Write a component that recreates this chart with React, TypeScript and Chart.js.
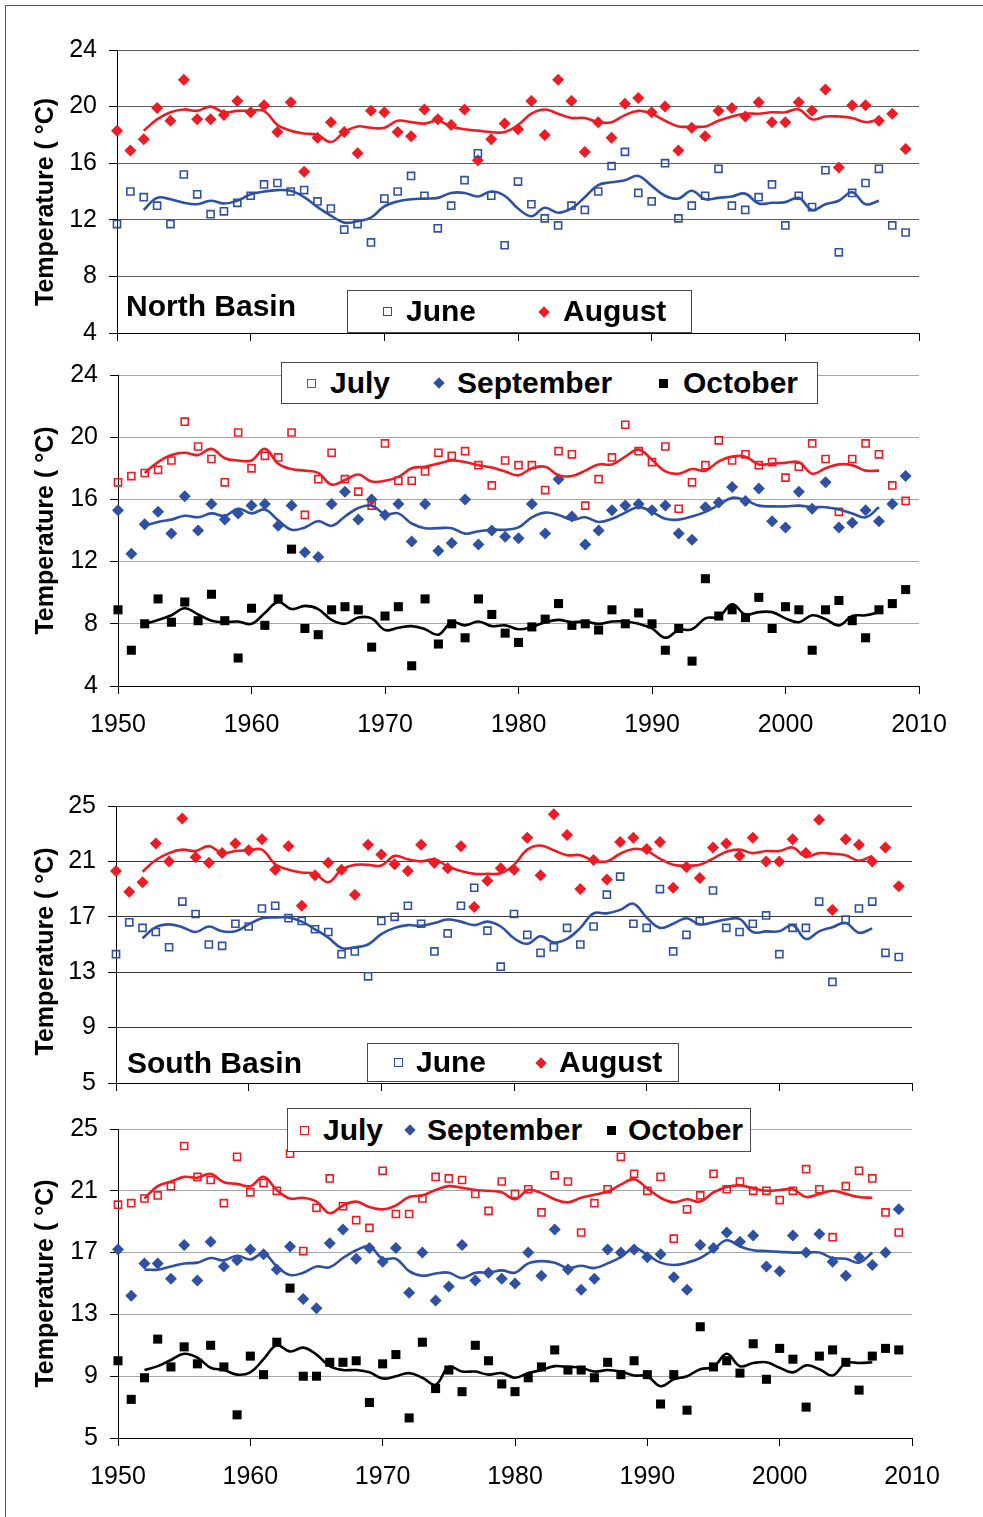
import React, { useEffect, useRef } from "react";
import { Chart, registerables } from "chart.js";

Chart.register(...registerables);

// ---------- categories ----------
const years = [
  1950, 1951, 1952, 1953, 1954, 1955, 1956, 1957, 1958, 1959,
  1960, 1961, 1962, 1963, 1964, 1965, 1966, 1967, 1968, 1969,
  1970, 1971, 1972, 1973, 1974, 1975, 1976, 1977, 1978, 1979,
  1980, 1981, 1982, 1983, 1984, 1985, 1986, 1987, 1988, 1989,
  1990, 1991, 1992, 1993, 1994, 1995, 1996, 1997, 1998, 1999,
  2000, 2001, 2002, 2003, 2004, 2005, 2006, 2007, 2008, 2009,
];
const lineYears = [
  1952, 1953, 1954, 1955, 1956, 1957, 1958, 1959,
  1960, 1961, 1962, 1963, 1964, 1965, 1966, 1967, 1968, 1969,
  1970, 1971, 1972, 1973, 1974, 1975, 1976, 1977, 1978, 1979,
  1980, 1981, 1982, 1983, 1984, 1985, 1986, 1987, 1988, 1989,
  1990, 1991, 1992, 1993, 1994, 1995, 1996, 1997, 1998, 1999,
  2000, 2001, 2002, 2003, 2004, 2005, 2006, 2007,
];
const xTicks = [1950, 1960, 1970, 1980, 1990, 2000, 2010];
const yTicksNorth = [4, 8, 12, 16, 20, 24];
const yTicksSouth = [5, 9, 13, 17, 21, 25];

// ---------- North Basin: June / August ----------
const northJune = [
  11.7, 14.0, 13.6, 13.0, 11.7, 15.2, 13.8, 12.4, 12.6, 13.2,
  13.7, 14.5, 14.6, 14.0, 14.1, 13.3, 12.8, 11.3, 11.7, 10.4,
  13.5, 14.0, 15.1, 13.7, 11.4, 13.0, 14.8, 16.7, 13.7, 10.2,
  14.7, 13.1, 12.1, 11.6, 13.0, 12.7, 14.0, 15.8, 16.8, 13.9,
  13.3, 16.0, 12.1, 13.0, 13.7, 15.6, 13.0, 12.7, 13.6, 14.5,
  11.6, 13.7, 12.9, 15.5, 9.7, 13.9, 14.6, 15.6, 11.6, 11.1,
];
const northAugust = [
  18.3, 16.9, 17.7, 19.9, 19.0, 21.9, 19.1, 19.1, 19.4, 20.4,
  19.6, 20.1, 18.2, 20.3, 15.4, 17.8, 18.9, 18.2, 16.7, 19.7,
  19.6, 18.2, 17.9, 19.8, 19.1, 18.7, 19.8, 16.2, 17.7, 18.8,
  18.4, 20.4, 18.0, 21.9, 20.4, 16.8, 18.9, 17.8, 20.2, 20.6,
  19.6, 20.0, 16.9, 18.5, 17.9, 19.7, 19.9, 19.3, 20.3, 18.9,
  18.9, 20.3, 19.7, 21.2, 15.7, 20.1, 20.1, 19.0, 19.5, 17.0,
];
const northJuneSmooth = [
  12.7, 13.55, 13.45, 13.2, 13.1, 13.35, 13.15, 13.35,
  13.8, 14.0, 14.1, 14.05, 13.6, 12.9, 12.3, 11.8, 11.9, 12.15,
  12.95, 13.3, 13.45, 13.5, 13.55, 13.9, 13.9, 13.65, 14.0, 13.7,
  12.8, 12.25, 12.85, 12.5, 12.8, 13.6, 14.45, 14.65, 14.8, 15.1,
  14.4, 13.7, 13.5, 14.05, 13.45, 13.55, 13.65, 13.85, 13.15, 13.2,
  13.25, 13.55, 12.7, 13.1, 13.35, 13.95, 13.1, 13.35,
];
const northAugustSmooth = [
  18.3, 19.1, 19.6, 19.8, 19.7, 20.0, 19.6, 19.7,
  19.7, 19.7, 18.7, 18.3, 18.1, 18.0, 17.5, 18.2, 18.6, 18.5,
  18.5, 19.0, 18.9, 18.8, 19.0, 18.6, 18.4, 18.3, 18.2, 18.2,
  18.7, 19.5, 19.8, 19.5, 19.2, 19.2, 18.9, 18.9, 19.4, 19.7,
  19.5, 19.0, 18.6, 18.6, 18.6, 19.0, 19.3, 19.5, 19.5, 19.6,
  19.6, 19.8, 19.1, 19.3, 19.3, 19.2, 18.9, 19.1,
];

// ---------- North Basin: July / September / October ----------
const northJuly = [
  17.1, 17.5, 17.7, 17.9, 18.5, 21.0, 19.4, 18.6, 17.1, 20.3,
  18.0, 18.8, 18.7, 20.3, 15.0, 17.3, 19.0, 17.3, 16.5, 15.6,
  19.6, 17.2, 17.2, 17.8, 19.0, 18.8, 19.1, 18.2, 16.9, 18.5,
  18.2, 18.2, 16.6, 19.1, 18.9, 15.6, 17.3, 18.7, 20.8, 19.1,
  18.4, 19.4, 15.4, 17.1, 18.2, 19.8, 18.5, 18.9, 18.2, 18.4,
  17.4, 18.1, 19.6, 18.6, 15.2, 18.6, 19.6, 18.9, 16.9, 15.9,
];
const northSeptember = [
  15.3, 12.5, 14.4, 15.2, 13.8, 16.2, 14.0, 15.7, 14.7, 15.1,
  15.6, 15.7, 14.3, 15.6, 12.6, 12.3, 15.7, 16.5, 14.7, 16.0,
  15.0, 15.7, 13.3, 15.7, 12.7, 13.2, 16.0, 13.1, 14.0, 13.6,
  13.5, 15.7, 13.8, 17.3, 14.9, 13.1, 14.0, 15.3, 15.6, 15.7,
  15.3, 15.6, 13.8, 13.4, 15.5, 15.8, 16.8, 15.9, 16.7, 14.6,
  14.2, 16.5, 15.4, 17.1, 14.2, 14.5, 15.3, 14.6, 15.7, 17.5,
];
const northOctober = [
  8.9, 6.3, 8.0, 9.6, 8.1, 9.4, 8.2, 9.9, 8.2, 5.8,
  9.0, 7.9, 9.6, 12.8, 7.7, 7.3, 8.9, 9.1, 8.9, 6.5,
  8.5, 9.1, 5.3, 9.6, 6.7, 8.0, 7.1, 9.6, 8.6, 7.4,
  6.8, 7.8, 8.3, 9.3, 7.9, 8.0, 7.6, 8.9, 8.0, 8.7,
  8.0, 6.3, 7.7, 5.6, 10.9, 8.5, 8.9, 8.4, 9.7, 7.7,
  9.1, 8.9, 6.3, 8.9, 9.5, 8.2, 7.1, 8.9, 9.3, 10.2,
];
const northJulySmooth = [
  17.7, 18.4, 18.85, 19.0, 18.85, 19.25, 18.65, 18.5,
  18.5, 19.25, 18.3, 17.95, 17.85, 17.7, 16.95, 17.25, 17.6, 17.15,
  17.2, 17.45, 18.0, 18.1, 18.3, 18.5, 18.4, 18.2, 18.05, 17.8,
  17.55, 18.0, 18.1, 17.55, 17.5, 17.85, 18.25, 18.25, 18.75, 19.2,
  18.55, 17.8, 17.65, 17.95, 17.85, 18.45, 18.75, 18.75, 18.25, 18.3,
  18.35, 18.4, 17.65, 18.0, 18.25, 18.2, 17.85, 17.85,
];
const northSeptemberSmooth = [
  14.3, 14.55, 14.7, 14.95, 14.85, 15.1, 14.95, 15.4,
  15.1, 15.35, 14.65, 14.05, 14.2, 14.6, 14.3, 14.9, 15.45, 15.6,
  15.05, 15.1, 14.45, 14.15, 14.15, 14.15, 13.8, 13.95, 14.05, 14.05,
  14.2, 14.85, 15.15, 15.0, 14.7, 14.85, 14.55, 14.75, 15.15, 15.5,
  15.2, 14.75, 14.7, 14.9, 15.2, 15.65, 16.1, 15.95, 15.6, 15.55,
  15.55, 15.6, 15.5, 15.5, 15.35, 15.1, 14.85, 15.5,
];
const northOctoberSmooth = [
  8.0, 8.25, 8.55, 9.0, 8.6, 8.2, 8.1, 8.15,
  8.0, 8.7, 9.4, 8.95, 9.15, 8.95, 8.25, 8.0, 8.4, 8.35,
  7.6, 7.75, 7.85, 7.65, 7.3, 8.1, 7.9, 8.15, 7.85, 7.9,
  7.65, 7.8, 8.1, 8.25, 8.1, 8.15, 8.0, 8.15, 8.15, 8.0,
  7.7, 7.1, 7.6, 7.65, 8.35, 8.45, 9.25, 8.6, 8.75, 8.75,
  8.35, 8.1, 8.55, 8.3, 7.9, 8.5, 8.55, 8.75,
];

// ---------- South Basin: June / August ----------
const southJune = [
  14.3, 16.6, 16.2, 15.9, 14.8, 18.1, 17.2, 15.0, 14.9, 16.5,
  16.3, 17.6, 17.8, 16.9, 16.7, 16.1, 15.9, 14.3, 14.5, 12.7,
  16.7, 17.0, 17.8, 16.5, 14.5, 15.8, 17.8, 19.1, 16.0, 13.4,
  17.2, 15.7, 14.4, 14.8, 16.2, 15.0, 16.3, 18.6, 19.9, 16.5,
  16.2, 19.0, 14.5, 15.7, 16.7, 18.9, 16.2, 15.9, 16.5, 17.1,
  14.3, 16.2, 16.2, 18.1, 12.3, 16.8, 17.6, 18.1, 14.4, 14.1,
];
const southAugust = [
  20.3, 18.8, 19.5, 22.3, 21.0, 24.1, 21.3, 20.9, 21.6, 22.3,
  21.8, 22.6, 20.4, 22.1, 17.8, 20.0, 20.9, 20.4, 18.6, 22.2,
  21.5, 20.8, 20.3, 22.2, 20.9, 20.5, 22.1, 17.7, 19.6, 20.5,
  20.4, 22.7, 20.0, 24.4, 22.9, 19.0, 21.1, 19.7, 22.4, 22.7,
  21.9, 22.4, 19.1, 20.6, 19.8, 22.0, 22.3, 21.4, 22.7, 21.0,
  21.0, 22.6, 21.6, 24.0, 17.5, 22.6, 22.2, 21.0, 22.0, 19.2,
];
const southJuneSmooth = [
  15.45, 16.25, 16.45, 16.25, 15.9, 16.3, 15.95, 15.95,
  16.45, 16.9, 16.95, 16.95, 16.65, 16.1, 15.5, 14.75, 14.8, 15.0,
  15.75, 16.2, 16.4, 16.35, 16.55, 16.8, 16.65, 16.4, 16.65, 16.3,
  15.45, 15.05, 15.6, 15.15, 15.4, 16.2, 17.25, 17.25, 17.5, 17.95,
  16.95, 16.2, 16.5, 16.9, 16.45, 16.6, 16.8, 16.85, 15.9, 15.95,
  15.95, 16.4, 15.4, 15.95, 16.25, 16.55, 15.85, 16.15,
];
const southAugustSmooth = [
  20.25, 21.1, 21.6, 21.85, 21.75, 22.1, 21.6, 21.75,
  21.8, 21.85, 20.8, 20.4, 20.2, 20.1, 19.5, 20.4, 20.75, 20.75,
  20.7, 21.4, 21.15, 21.0, 21.15, 20.65, 20.3, 20.1, 20.1, 20.15,
  20.75, 21.85, 22.15, 21.8, 21.45, 21.45, 21.05, 21.0, 21.55, 21.9,
  21.75, 21.2, 20.75, 20.7, 20.75, 21.2, 21.7, 21.85, 21.6, 21.75,
  21.75, 22.0, 21.35, 21.6, 21.55, 21.45, 21.05, 21.4,
];

// ---------- South Basin: July / September / October ----------
const southJuly = [
  20.1, 20.2, 20.5, 20.7, 21.3, 23.9, 21.9, 21.7, 20.2, 23.2,
  20.9, 21.5, 21.0, 23.4, 17.1, 19.9, 21.8, 20.0, 19.1, 18.6,
  22.3, 19.5, 19.5, 20.5, 21.9, 21.8, 21.7, 20.8, 19.7, 21.6,
  20.8, 21.1, 19.6, 22.0, 21.6, 18.3, 20.2, 21.1, 23.2, 22.1,
  21.0, 21.9, 17.9, 19.8, 20.7, 22.1, 21.1, 21.6, 21.0, 21.0,
  20.4, 21.0, 22.4, 21.1, 18.0, 21.3, 22.3, 21.8, 19.6, 18.3,
];
const southSeptember = [
  17.2, 14.2, 16.3, 16.3, 15.3, 17.5, 15.2, 17.7, 16.1, 16.5,
  17.2, 16.9, 15.9, 17.4, 14.0, 13.4, 17.6, 18.5, 16.6, 17.3,
  16.4, 17.3, 14.4, 17.0, 13.9, 14.8, 17.5, 15.2, 15.7, 15.3,
  15.0, 17.0, 15.5, 18.5, 15.9, 14.6, 15.3, 17.2, 17.0, 17.2,
  16.7, 16.9, 15.4, 14.6, 17.5, 17.3, 18.3, 17.7, 18.1, 16.1,
  15.8, 18.1, 17.0, 18.2, 16.4, 15.5, 16.7, 16.2, 17.0, 19.8,
];
const southOctober = [
  10.0, 7.5, 8.9, 11.4, 9.6, 10.9, 9.8, 11.0, 9.6, 6.5,
  10.3, 9.1, 11.2, 14.7, 9.0, 9.0, 9.9, 9.9, 10.0, 7.3,
  9.8, 10.4, 6.3, 11.2, 8.2, 9.4, 8.0, 11.0, 10.0, 8.5,
  8.0, 8.9, 9.6, 10.7, 9.4, 9.4, 8.9, 9.9, 9.1, 10.0,
  9.1, 7.2, 9.1, 6.8, 12.2, 9.6, 10.0, 9.2, 11.1, 8.8,
  10.8, 10.1, 7.0, 10.3, 10.7, 9.9, 8.1, 10.3, 10.8, 10.7,
];
const southJulySmooth = [
  20.5, 21.3, 21.6, 21.9, 21.85, 22.1, 21.55, 21.45,
  21.3, 21.9, 21.05, 20.5, 20.55, 20.3, 19.55, 20.05, 20.3, 19.95,
  19.8, 20.05, 20.6, 20.7, 21.05, 21.3, 21.2, 21.05, 21.0, 20.9,
  20.45, 21.05, 20.85, 20.45, 20.25, 20.55, 20.75, 20.95, 21.4, 21.75,
  21.15, 20.55, 20.25, 20.45, 20.3, 20.9, 21.25, 21.35, 21.15, 21.0,
  21.05, 21.1, 20.6, 20.8, 21.0, 20.8, 20.6, 20.55,
];
const southSeptemberSmooth = [
  15.9, 15.9, 16.1, 16.3, 16.35, 16.65, 16.5, 16.8,
  16.55, 16.95, 16.1, 15.55, 15.7, 16.1, 16.05, 16.65, 17.15, 17.4,
  16.6, 16.6, 15.8, 15.5, 15.65, 15.7, 15.35, 15.7, 15.7, 15.85,
  15.7, 16.3, 16.45, 16.35, 16.0, 16.15, 16.0, 16.3, 16.7, 17.3,
  16.85, 16.35, 16.2, 16.35, 16.65, 17.2, 17.8, 17.4, 17.15, 17.1,
  17.05, 17.0, 17.0, 17.0, 16.65, 16.6, 16.35, 17.0,
];
const southOctoberSmooth = [
  9.4, 9.65, 10.05, 10.45, 10.2, 9.55, 9.4, 9.1,
  9.25, 10.1, 11.0, 10.6, 10.85, 10.4, 9.65, 9.4, 9.4, 9.25,
  8.85, 9.0, 9.2, 8.9, 8.45, 9.6, 9.3, 9.3, 9.1, 9.2,
  8.9, 9.2, 9.4, 9.65, 9.6, 9.55, 9.3, 9.4, 9.3, 9.05,
  9.0, 8.35, 8.8, 9.0, 9.45, 9.6, 10.45, 9.65, 9.85, 9.9,
  9.55, 9.25, 9.7, 9.45, 9.05, 9.85, 9.85, 9.9,
];

// ---------- styling ----------
const FONT = "'Liberation Sans', Arial, Helvetica, sans-serif";
const RED = "#ED1C24";
const BLUE = "#2F51A3";
const BLACK = "#000000";
const PAGE_W = 983;
const Y_TITLE = "Temperature ( °C)";

const xy = (xs: number[], ys: number[]) => xs.map((x, i) => ({ x, y: ys[i] }));

const openSquare = (label: string, ys: number[], color: string) => ({
  label,
  data: xy(years, ys),
  showLine: false,
  pointStyle: "rect",
  pointRadius: 5.0,
  pointBorderWidth: 1.6,
  pointBorderColor: color,
  pointBackgroundColor: "rgba(255,255,255,0)",
  clip: false,
  order: 2,
});
const diamond = (label: string, ys: number[], color: string) => ({
  label,
  data: xy(years, ys),
  showLine: false,
  pointStyle: "rectRot",
  pointRadius: 6.0,
  pointBorderWidth: 0,
  pointBorderColor: color,
  pointBackgroundColor: color,
  clip: false,
  order: 2,
});
const filledSquare = (label: string, ys: number[], color: string) => ({
  label,
  data: xy(years, ys),
  showLine: false,
  pointStyle: "rect",
  pointRadius: 6.4,
  pointBorderWidth: 0,
  pointBorderColor: color,
  pointBackgroundColor: color,
  clip: false,
  order: 2,
});
const smooth = (label: string, ys: number[], color: string) => ({
  label,
  data: xy(lineYears, ys),
  showLine: true,
  borderColor: color,
  borderWidth: 2.6,
  pointRadius: 0,
  tension: 0.4,
  fill: false,
  clip: false,
  order: 1,
});

type PanelSpec = {
  top: number;
  height: number;
  left: number;
  right: number;
  chartTop: number;
  chartBottom: number;
  yTicks: number[];
  showXLabels: boolean;
  gridColor: string;
  titleText: string;
  datasets: any[];
};

const panels: PanelSpec[] = [
  {
    top: 0, height: 360, left: 117, right: 919, chartTop: 50, chartBottom: 338,
    yTicks: yTicksNorth, showXLabels: false, gridColor: "#5E5E5E", titleText: Y_TITLE + "   ",
    datasets: [
      smooth("August (smoothed)", northAugustSmooth, RED),
      smooth("June (smoothed)", northJuneSmooth, BLUE),
      openSquare("June", northJune, BLUE),
      diamond("August", northAugust, RED),
    ],
  },
  {
    top: 345, height: 415, left: 118, right: 919, chartTop: 375, chartBottom: 686,
    yTicks: yTicksNorth, showXLabels: true, gridColor: "#A6A6A6", titleText: Y_TITLE,
    datasets: [
      smooth("July (smoothed)", northJulySmooth, RED),
      smooth("September (smoothed)", northSeptemberSmooth, BLUE),
      smooth("October (smoothed)", northOctoberSmooth, BLACK),
      openSquare("July", northJuly, RED),
      diamond("September", northSeptember, BLUE),
      filledSquare("October", northOctober, BLACK),
    ],
  },
  {
    top: 770, height: 340, left: 116, right: 912, chartTop: 806, chartBottom: 1092,
    yTicks: yTicksSouth, showXLabels: false, gridColor: "#3A3A3A", titleText: Y_TITLE + "  ",
    datasets: [
      smooth("August (smoothed)", southAugustSmooth, RED),
      smooth("June (smoothed)", southJuneSmooth, BLUE),
      openSquare("June", southJune, BLUE),
      diamond("August", southAugust, RED),
    ],
  },
  {
    top: 1100, height: 417, left: 118, right: 912, chartTop: 1129, chartBottom: 1438,
    yTicks: yTicksSouth, showXLabels: true, gridColor: "#A6A6A6", titleText: Y_TITLE,
    datasets: [
      smooth("July (smoothed)", southJulySmooth, RED),
      smooth("September (smoothed)", southSeptemberSmooth, BLUE),
      smooth("October (smoothed)", southOctoberSmooth, BLACK),
      openSquare("July", southJuly, RED),
      diamond("September", southSeptember, BLUE),
      filledSquare("October", southOctober, BLACK),
    ],
  },
];

function PanelChart({ spec }: { spec: PanelSpec }) {
  const ref = useRef<HTMLCanvasElement | null>(null);
  useEffect(() => {
    if (!ref.current) return;
    Chart.defaults.font.family = FONT;
    const yMin = spec.yTicks[0];
    const yMax = spec.yTicks[spec.yTicks.length - 1];
    const chart = new Chart(ref.current, {
      type: "scatter",
      data: { datasets: spec.datasets },
      options: {
        responsive: false,
        maintainAspectRatio: false,
        animation: false,
        events: [],
        layout: {
          padding: { left: 0, top: spec.chartTop - spec.top, right: PAGE_W - spec.right, bottom: 0 },
        },
        plugins: { legend: { display: false }, tooltip: { enabled: false }, title: { display: false } },
        scales: {
          x: {
            type: "linear",
            min: xTicks[0],
            max: xTicks[xTicks.length - 1],
            afterBuildTicks: (s: any) => { s.ticks = xTicks.map((v) => ({ value: v })); },
            afterFit: (s: any) => { s.height = spec.top + spec.height - spec.chartBottom; },
            ticks: {
              display: spec.showXLabels,
              color: "#000",
              font: { size: 25, family: FONT },
              padding: 16,
              maxRotation: 0,
              autoSkip: false,
              callback: (v: any) => String(v),
            },
            grid: { drawOnChartArea: false, drawTicks: true, tickLength: 8, tickColor: "#000", tickWidth: 1 },
            border: { display: true, color: "#000", width: 1 },
          },
          y: {
            type: "linear",
            min: yMin,
            max: yMax,
            afterBuildTicks: (s: any) => { s.ticks = spec.yTicks.map((v) => ({ value: v })); },
            afterFit: (s: any) => { s.width = spec.left; },
            ticks: { color: "#000", font: { size: 25, family: FONT }, padding: 12, callback: (v: any) => String(v) },
            grid: { color: spec.gridColor, lineWidth: 1, drawTicks: true, tickLength: 8, tickColor: "#000" },
            border: { display: true, color: "#000", width: 1 },
            title: {
              display: true,
              text: spec.titleText,
              color: "#000",
              font: { size: 25, weight: "bold", family: FONT },
              padding: { top: 31, bottom: 0 },
            },
          },
        },
      } as any,
    });
    return () => chart.destroy();
  }, []);
  return (
    <canvas
      ref={ref}
      width={PAGE_W}
      height={spec.height}
      style={{ position: "absolute", left: 0, top: spec.top, width: PAGE_W, height: spec.height }}
    />
  );
}

type LegendItem = { kind: "open" | "diamond" | "square"; color: string; label: string; mx: number; tx: number };

function Marker({ kind, color, cx, cy }: { kind: string; color: string; cx: number; cy: number }) {
  if (kind === "open") {
    return (
      <div style={{ position: "absolute", left: cx - 4.5, top: cy - 4.5, width: 9, height: 9, boxSizing: "border-box", border: `1.6px solid ${color}` }} />
    );
  }
  if (kind === "diamond") {
    return (
      <div style={{ position: "absolute", left: cx - 4, top: cy - 4, width: 8, height: 8, background: color, transform: "rotate(45deg)" }} />
    );
  }
  return <div style={{ position: "absolute", left: cx - 4.5, top: cy - 4.5, width: 9, height: 9, background: color }} />;
}

function LegendBox({ left, top, width, height, items }: { left: number; top: number; width: number; height: number; items: LegendItem[] }) {
  return (
    <div
      style={{
        position: "absolute", left, top, width, height, boxSizing: "border-box",
        border: "1.5px solid #4a4a4a", background: "#fff",
      }}
    >
      {items.map((it) => (
        <React.Fragment key={it.label}>
          <Marker kind={it.kind} color={it.color} cx={it.mx} cy={height / 2 - 1} />
          <span
            style={{
              position: "absolute", left: it.tx, top: 0, height: height - 3, lineHeight: `${height - 3}px`,
              fontFamily: FONT, fontWeight: "bold", fontSize: 30, color: "#000", whiteSpace: "nowrap",
            }}
          >
            {it.label}
          </span>
        </React.Fragment>
      ))}
    </div>
  );
}

const basinLabel = (text: string, left: number, top: number) => (
  <div
    style={{
      position: "absolute", left, top, height: 36, lineHeight: "36px", fontFamily: FONT,
      fontWeight: "bold", fontSize: 30, color: "#000", whiteSpace: "nowrap",
    }}
  >
    {text}
  </div>
);

export default function App() {
  return (
    <div style={{ position: "absolute", left: 0, top: 0, width: PAGE_W, height: 1517, background: "#fff", overflow: "hidden" }}>
      <div
        style={{
          position: "absolute", left: 5, top: 5, width: 978, height: 1512, boxSizing: "border-box",
          borderTop: "1px solid #555", borderLeft: "1px solid #555",
        }}
      />
      {panels.map((p, i) => (
        <PanelChart key={i} spec={p} />
      ))}
      {basinLabel("North Basin", 126, 288)}
      <LegendBox
        left={347} top={290} width={345} height={43}
        items={[
          { kind: "open", color: BLUE, label: "June", mx: 39, tx: 58 },
          { kind: "diamond", color: RED, label: "August", mx: 196, tx: 215 },
        ]}
      />
      <LegendBox
        left={281} top={362} width={537} height={42}
        items={[
          { kind: "open", color: RED, label: "July", mx: 29, tx: 48 },
          { kind: "diamond", color: BLUE, label: "September", mx: 157, tx: 175 },
          { kind: "square", color: BLACK, label: "October", mx: 381, tx: 401 },
        ]}
      />
      {basinLabel("South Basin", 127, 1045)}
      <LegendBox
        left={367} top={1043} width={312} height={39}
        items={[
          { kind: "open", color: BLUE, label: "June", mx: 30, tx: 48 },
          { kind: "diamond", color: RED, label: "August", mx: 173, tx: 191 },
        ]}
      />
      <LegendBox
        left={287} top={1108} width={464} height={44}
        items={[
          { kind: "open", color: RED, label: "July", mx: 16, tx: 35 },
          { kind: "diamond", color: BLUE, label: "September", mx: 122, tx: 139 },
          { kind: "square", color: BLACK, label: "October", mx: 323, tx: 340 },
        ]}
      />
    </div>
  );
}
